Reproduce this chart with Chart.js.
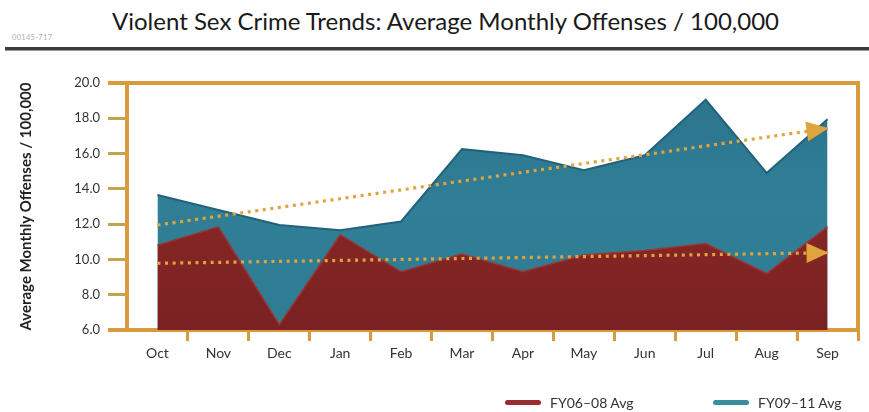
<!DOCTYPE html>
<html>
<head>
<meta charset="utf-8">
<script src="https://cdn.jsdelivr.net/npm/chart.js@4"></script>
<style>
  html, body { margin: 0; padding: 0; background: #ffffff; }
  body { width: 869px; height: 412px; position: relative; overflow: hidden; font-family: 'Lato', sans-serif; }
  #title { position: absolute; left: 112px; top: 6px; font-size: 24px; color: #1a1a1a; white-space: nowrap; }
  #code { position: absolute; left: 12px; top: 33px; font-size: 7.5px; color: #b0b0b0; letter-spacing: 0.3px; }
  #rule { position: absolute; left: 5px; right: 0; top: 47px; height: 3px; background: #3c3c3c; border-bottom: 1px solid #9a9a9a; }
  #wrap { position: absolute; left: 0; top: 0; width: 869px; height: 412px; }
  #legend { position: absolute; top: 393px; left: 0; width: 869px; height: 18px; font-size: 14px; color: #333; }
  .li { position: absolute; top: 0; display: flex; align-items: center; height: 18px; }
  .sw { width: 36px; height: 5px; border-radius: 3px; margin-right: 9px; }
</style>
</head>
<body>
<div id="title">Violent Sex Crime Trends: Average Monthly Offenses / 100,000</div>
<div id="code">00145-717</div>
<div id="rule"></div>
<div id="wrap"><canvas id="c" width="869" height="412"></canvas></div>
<div id="legend"></div>
<script>
// ---- data ----
const months = ['Oct', 'Nov', 'Dec', 'Jan', 'Feb', 'Mar', 'Apr', 'May', 'Jun', 'Jul', 'Aug', 'Sep'];
const seriesNames = ['FY06\u201308 Avg', 'FY09\u201311 Avg'];
const fy0608 = [10.8, 11.85, 6.3, 11.4, 9.3, 10.3, 9.3, 10.25, 10.5, 10.9, 9.2, 11.85];
const fy0911 = [13.65, 12.8, 11.95, 11.65, 12.15, 16.25, 15.9, 15.05, 15.9, 19.05, 14.9, 17.95];
// trend lines: start (Oct) and end (Sep) values
const trend0608 = [9.78, null, null, null, null, null, null, null, null, null, null, 10.38];
const trend0911 = [11.95, null, null, null, null, null, null, null, null, null, null, 17.43];
const yMin = 6, yMax = 20, yStep = 2;
const yTitle = 'Average Monthly Offenses / 100,000';

// ---- styles ----
const ORANGE = '#D89A3C';
const OLIVE = '#BFA54C';
const TREND = '#E0A43F';

Chart.defaults.font.family = "'Lato', sans-serif";
Chart.defaults.color = '#333';

function grad(ctx, top, mid, bot) {
  const chart = ctx.chart;
  const area = chart.chartArea;
  if (!area) return mid;
  const g = chart.ctx.createLinearGradient(0, area.top, 0, area.bottom);
  g.addColorStop(0, top);
  g.addColorStop(0.5, mid);
  g.addColorStop(1, bot);
  return g;
}

const arrowPlugin = {
  id: 'arrows',
  afterDatasetsDraw(chart) {
    const c = chart.ctx;
    chart.data.datasets.forEach((ds, i) => {
      if (!ds.arrow) return;
      const meta = chart.getDatasetMeta(i);
      const pts = meta.data.filter((p, j) => ds.data[j] != null);
      const a = pts[0], b = pts[pts.length - 1];
      const ang = Math.atan2(b.y - a.y, b.x - a.x);
      const L = 21, W = 10;
      c.save();
      c.translate(b.x, b.y);
      c.rotate(ang);
      c.beginPath();
      c.moveTo(1, 0);
      c.lineTo(-L, -W);
      c.lineTo(-L, W);
      c.closePath();
      c.fillStyle = TREND;
      c.fill();
      c.restore();
    });
  },
  afterDraw(chart) {
    const c = chart.ctx, a = chart.chartArea;
    c.save();
    c.strokeStyle = ORANGE;
    c.lineWidth = 4;
    c.beginPath();
    c.moveTo(a.right, a.top - 2);
    c.lineTo(a.right, a.bottom + 2);
    c.stroke();
    c.restore();
  }
};

const legend = document.getElementById('legend');
[[seriesNames[0], '#9A2B30', 505], [seriesNames[1], '#3A8E9B', 713]].forEach(([name, col, x]) => {
  const d = document.createElement('div');
  d.className = 'li';
  d.style.left = x + 'px';
  d.innerHTML = '<span class="sw" style="background:' + col + '"></span><span>' + name + '</span>';
  legend.appendChild(d);
});

const edge = ctx => (ctx.tick && (ctx.tick.value === yMax || ctx.tick.value === yMin));

new Chart(document.getElementById('c'), {
  type: 'line',
  data: {
    labels: months,
    datasets: [
      {
        label: 'FY06-08 trend', data: trend0608, arrow: true, spanGaps: true,
        borderColor: TREND, borderWidth: 3.2, borderDash: [3, 4.6], fill: false,
        pointRadius: 0, tension: 0
      },
      {
        label: 'FY09-11 trend', data: trend0911, arrow: true, spanGaps: true,
        borderColor: TREND, borderWidth: 3.2, borderDash: [3, 4.6], fill: false,
        pointRadius: 0, tension: 0
      },
      {
        label: seriesNames[0], data: fy0608, fill: 'start', pointRadius: 0, tension: 0,
        borderColor: '#9C3431', borderWidth: 1.5,
        backgroundColor: ctx => grad(ctx, '#93302C', '#882726', '#7A2123')
      },
      {
        label: seriesNames[1], data: fy0911, fill: 'start', pointRadius: 0, tension: 0,
        borderColor: '#22627A', borderWidth: 2,
        backgroundColor: ctx => grad(ctx, '#2B738B', '#307F97', '#2F7C93')
      }
    ]
  },
  options: {
    responsive: false,
    animation: false,
    layout: { padding: { left: 0, top: 83, right: 11, bottom: 0 } },
    plugins: { legend: { display: false }, tooltip: { enabled: false } },
    scales: {
      x: {
        offset: true,
        z: 1,
        afterFit(s) { s.height = 82; },
        grid: {
          offset: true,
          drawOnChartArea: false,
          tickLength: 11,
          lineWidth: 3,
          tickColor: ctx => ((ctx.index === 0 || ctx.index >= months.length) ? 'rgba(0,0,0,0)' : ORANGE)
        },
        border: { color: ORANGE, width: 4 },
        ticks: { color: '#333', font: { size: 14 }, padding: 4, maxRotation: 0 }
      },
      y: {
        min: yMin, max: yMax,
        z: 1,
        afterFit(s) { s.width = 127; },
        grid: {
          drawOnChartArea: true,
          tickLength: 19,
          color: ctx => edge(ctx) ? ORANGE : 'rgba(0,0,0,0)',
          tickColor: ctx => edge(ctx) ? ORANGE : OLIVE,
          lineWidth: ctx => edge(ctx) ? 4 : 3
        },
        border: { color: ORANGE, width: 4 },
        ticks: {
          stepSize: yStep, padding: 8, color: '#333', font: { size: 13 },
          callback: v => Number(v).toFixed(1)
        },
        title: {
          display: true, text: yTitle, color: '#222',
          font: { size: 15, weight: 'bold' },
          padding: { top: 17, bottom: 0 }
        }
      }
    }
  },
  plugins: [arrowPlugin]
});
</script>
</body>
</html>
